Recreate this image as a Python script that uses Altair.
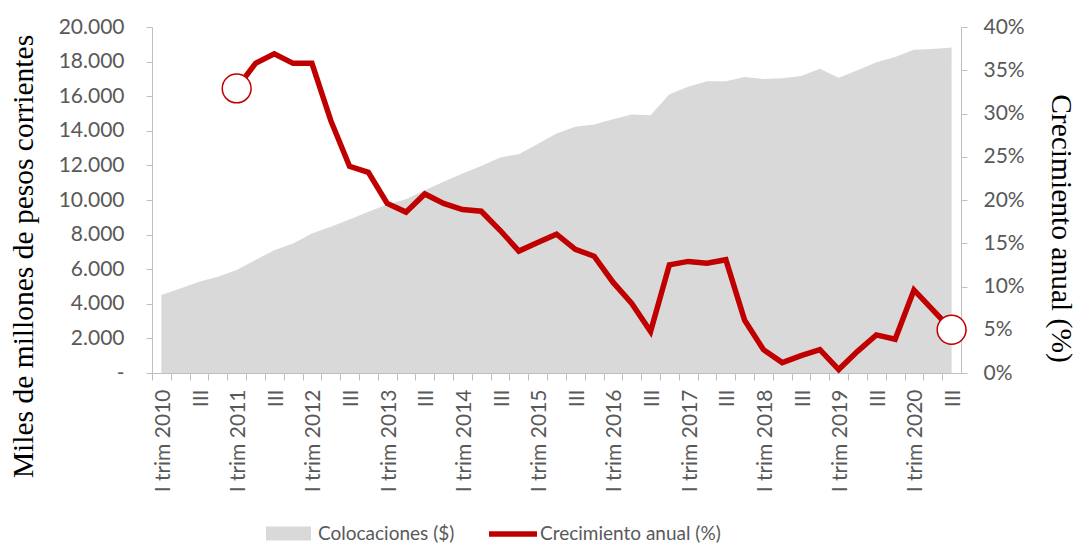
import altair as alt
import pandas as pd

# ---- data ----
trimestres = ["I", "II", "III", "IV"]
anios = list(range(2010, 2021))
periodos = [f"{t} trim {a}" for a in anios for t in trimestres][:43]  # I trim 2010 ... III trim 2020

colocaciones = [
    4505, 4890, 5270, 5560,
    5950, 6530, 7100, 7490,
    8070, 8450, 8880, 9320,
    9740, 10050, 10570, 11050,
    11530, 11970, 12460, 12650,
    13230, 13840, 14230, 14360,
    14670, 14940, 14900, 16110,
    16550, 16860, 16860, 17110,
    17000, 17040, 17170, 17580,
    17070, 17500, 17960, 18270,
    18690, 18730, 18810,
]

# annual growth (%) from I trim 2011
crecimiento = [
    32.9, 35.8, 36.9, 35.8,
    35.8, 29.2, 23.9, 23.2,
    19.6, 18.6, 20.7, 19.6,
    18.9, 18.7, 16.5, 14.1,
    15.1, 16.05, 14.3, 13.5,
    10.5, 8.05, 4.8, 12.5,
    12.9, 12.7, 13.1, 6.1,
    2.7, 1.2, 2.0, 2.7,
    0.4, 2.5, 4.4, 3.9,
    9.6, 7.3, 5.0,
]

y_left_ticks = [0, 2000, 4000, 6000, 8000, 10000, 12000, 14000, 16000, 18000, 20000]
y_right_ticks = [0, 5, 10, 15, 20, 25, 30, 35, 40]

offset = len(periodos) - len(crecimiento)
df_area = pd.DataFrame({"periodo": periodos, "colocaciones": colocaciones,
                        "serie": ["Colocaciones ($)"] * len(periodos)})
df_line = pd.DataFrame({"periodo": periodos[offset:], "crecimiento": crecimiento,
                        "serie": ["Crecimiento anual (%)"] * len(crecimiento)})
marcadores = pd.DataFrame({
    "periodo": [periodos[offset], periodos[-1]],
    "crecimiento": [crecimiento[0], crecimiento[-1]],
})

W, H = 809, 346
HALF_STEP = W / len(periodos) / 2

GREY_TXT = "#595959"
AXIS_GREY = "#BFBFBF"
RED = "#C00000"
AREA = "#D9D9D9"
SANS = "Lato"
SERIF = "Liberation Serif"

x_enc = alt.X(
    "periodo:O",
    sort=periodos,
    axis=alt.Axis(
        title=None,
        labelAngle=-90,
        labelAlign="right",
        labelBaseline="middle",
        labelExpr="indexof(datum.value, 'I trim') == 0 ? datum.value : (indexof(datum.value, 'III ') == 0 ? 'III' : '')",
        labelOverlap=False,
        labelFont=SANS,
        labelFontSize=21,
        labelColor=GREY_TXT,
        labelPadding=9,
        tickSize=7,
        tickOffset=-HALF_STEP,
        labelOffset=HALF_STEP + 2,
        tickColor=AXIS_GREY,
        domainColor=AXIS_GREY,
        grid=False,
    ),
)

area = alt.Chart(df_area).mark_area().encode(
    x=x_enc,
    y=alt.Y(
        "colocaciones:Q",
        scale=alt.Scale(domain=[0, 20000], nice=False),
        axis=alt.Axis(
            values=y_left_ticks,
            labelExpr="datum.value == 0 ? '-' : replace(format(datum.value, ','), ',', '.')",
            labelFont=SANS,
            labelFontSize=21,
            labelColor=GREY_TXT,
            labelPadding=22,
            tickSize=6,
            tickColor=AXIS_GREY,
            domainColor=AXIS_GREY,
            grid=False,
            title="Miles de millones de pesos corrientes",
            titleFont=SERIF,
            titleFontSize=29.5,
            titleFontWeight="normal",
            titleColor="black",
            titleAngle=-90,
            titleAlign="center",
            titleBaseline="middle",
            titleX=-129,
            titleY=229,
        ),
    ),
    fill=alt.Fill(
        "serie:N",
        scale=alt.Scale(domain=["Colocaciones ($)"], range=[AREA]),
        legend=alt.Legend(
            orient="none", legendX=107, legendY=477, title=None, padding=0,
            symbolType="stroke", symbolSize=2025, symbolStrokeWidth=14,
            symbolStrokeColor=AREA,
            labelFont=SANS, labelFontSize=19, labelColor=GREY_TXT, labelOffset=0,
            labelLimit=400,
        ),
    ),
)

line = alt.Chart(df_line).mark_line(strokeWidth=5.5).encode(
    x=x_enc,
    y=alt.Y(
        "crecimiento:Q",
        scale=alt.Scale(domain=[0, 40], nice=False),
        axis=alt.Axis(
            orient="right",
            values=y_right_ticks,
            labelExpr="datum.value + '%'",
            labelFont=SANS,
            labelFontSize=21,
            labelColor=GREY_TXT,
            labelPadding=16,
            tickSize=6,
            tickColor=AXIS_GREY,
            domainColor=AXIS_GREY,
            grid=False,
            title="Crecimiento anual (%)",
            titleFont=SERIF,
            titleFontSize=29.5,
            titleFontWeight="normal",
            titleColor="black",
            titleAngle=90,
            titleAlign="center",
            titleBaseline="middle",
            titleX=99,
            titleY=201,
        ),
    ),
    stroke=alt.Stroke(
        "serie:N",
        scale=alt.Scale(domain=["Crecimiento anual (%)"], range=[RED]),
        legend=alt.Legend(
            orient="none", legendX=334, legendY=480, title=None, padding=0,
            symbolType="stroke", symbolSize=2304, symbolStrokeWidth=5.5,
            labelFont=SANS, labelFontSize=19, labelColor=GREY_TXT, labelOffset=0,
            labelLimit=400,
        ),
    ),
)

puntos = alt.Chart(marcadores).mark_point(
    shape="circle", filled=True, fill="white", stroke=RED, strokeWidth=1.5,
    size=830, opacity=1,
).encode(
    x=x_enc,
    y=alt.Y("crecimiento:Q", scale=alt.Scale(domain=[0, 40], nice=False), axis=None),
)

chart = alt.layer(area, line, puntos).resolve_scale(
    y="independent"
).properties(
    width=W,
    height=H,
    padding={"left": 144, "top": 19, "right": 114, "bottom": 170},
    autosize=alt.AutoSizeParams(type="none"),
    background="white",
).configure_view(stroke=None)

chart.save("out.html", embed_options={"renderer": "svg", "actions": False})
